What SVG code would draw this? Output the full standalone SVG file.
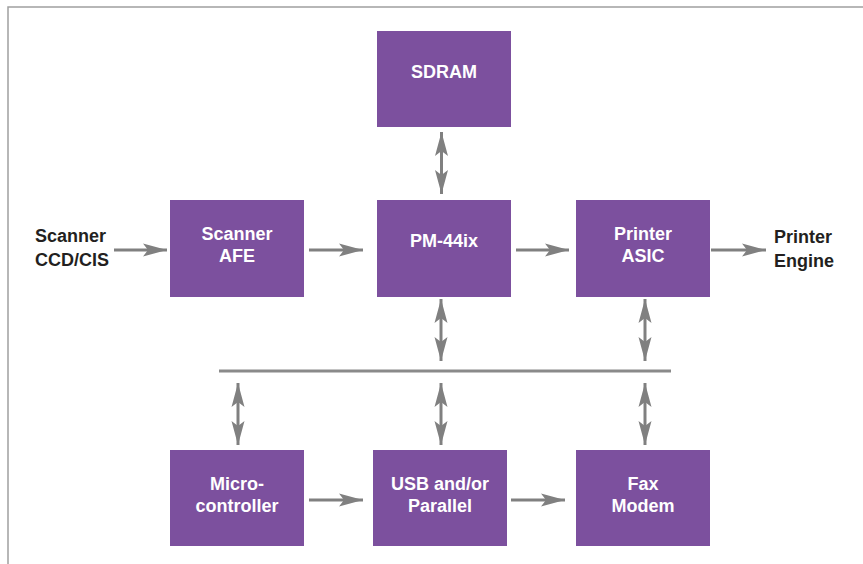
<svg xmlns="http://www.w3.org/2000/svg" width="863" height="564" viewBox="0 0 863 564">
  <style>
    .box { fill: #7c509e; }
    .bt { fill: #ffffff; font-family: "Liberation Sans", Arial, sans-serif; font-weight: bold; font-size: 18px; text-anchor: middle; }
    .lt { fill: #231f20; font-family: "Liberation Sans", Arial, sans-serif; font-weight: bold; font-size: 18px; }
    .ar { stroke: #808080; stroke-width: 3; fill: none; }
    .bus { stroke: #8a8a8a; stroke-width: 3; fill: none; }
    .frame { stroke: #a0a0a0; stroke-width: 1.5; fill: none; }
  </style>
  <defs>
    <marker id="ah" viewBox="-24 -7 24 14" refX="0" refY="0" markerWidth="24" markerHeight="14" markerUnits="userSpaceOnUse" orient="auto-start-reverse">
      <path d="M0,0 L-24,-6.5 L-19,0 L-24,6.5 Z" fill="#808080"/>
    </marker>
  </defs>
  <rect width="863" height="564" fill="#ffffff"/>
  <path class="frame" d="M8,564 V7 H863"/>

  <g id="sdram">
    <rect class="box" x="377" y="31" width="134" height="96"/>
    <text class="bt" x="444" y="78">SDRAM</text>
  </g>
  <g id="scanner-afe">
    <rect class="box" x="170" y="200" width="134" height="97"/>
    <text class="bt" x="237" y="240">Scanner</text>
    <text class="bt" x="237" y="262">AFE</text>
  </g>
  <g id="pm44ix">
    <rect class="box" x="377" y="200" width="134" height="97"/>
    <text class="bt" x="444" y="247">PM-44ix</text>
  </g>
  <g id="printer-asic">
    <rect class="box" x="576" y="200" width="134" height="97"/>
    <text class="bt" x="643" y="240">Printer</text>
    <text class="bt" x="643" y="262">ASIC</text>
  </g>
  <g id="microcontroller">
    <rect class="box" x="170" y="450" width="134" height="96"/>
    <text class="bt" x="237" y="490">Micro-</text>
    <text class="bt" x="237" y="512">controller</text>
  </g>
  <g id="usb-parallel">
    <rect class="box" x="373" y="450" width="134" height="96"/>
    <text class="bt" x="440" y="490">USB and/or</text>
    <text class="bt" x="440" y="512">Parallel</text>
  </g>
  <g id="fax-modem">
    <rect class="box" x="576" y="450" width="134" height="96"/>
    <text class="bt" x="643" y="490">Fax</text>
    <text class="bt" x="643" y="512">Modem</text>
  </g>
  <g id="scanner-ccd">
    <text class="lt" x="35" y="242">Scanner</text>
    <text class="lt" x="35" y="266">CCD/CIS</text>
  </g>
  <g id="printer-engine">
    <text class="lt" x="774" y="243">Printer</text>
    <text class="lt" x="774" y="267">Engine</text>
  </g>

  <g id="connectors">
    <line class="bus" x1="219" y1="371" x2="671" y2="371"/>
    <line class="ar" x1="114" y1="250" x2="167" y2="250" marker-end="url(#ah)"/>
    <line class="ar" x1="309" y1="250" x2="363" y2="250" marker-end="url(#ah)"/>
    <line class="ar" x1="516" y1="250" x2="569" y2="250" marker-end="url(#ah)"/>
    <line class="ar" x1="711" y1="250" x2="766" y2="250" marker-end="url(#ah)"/>
    <line class="ar" x1="309" y1="500" x2="363" y2="500" marker-end="url(#ah)"/>
    <line class="ar" x1="511" y1="500" x2="565" y2="500" marker-end="url(#ah)"/>
    <line class="ar" x1="441.5" y1="132" x2="441.5" y2="194" marker-start="url(#ah)" marker-end="url(#ah)"/>
    <line class="ar" x1="441" y1="299" x2="441" y2="361" marker-start="url(#ah)" marker-end="url(#ah)"/>
    <line class="ar" x1="645" y1="299" x2="645" y2="361" marker-start="url(#ah)" marker-end="url(#ah)"/>
    <line class="ar" x1="238" y1="383" x2="238" y2="445" marker-start="url(#ah)" marker-end="url(#ah)"/>
    <line class="ar" x1="441" y1="383" x2="441" y2="445" marker-start="url(#ah)" marker-end="url(#ah)"/>
    <line class="ar" x1="645" y1="383" x2="645" y2="445" marker-start="url(#ah)" marker-end="url(#ah)"/>
  </g>
</svg>
